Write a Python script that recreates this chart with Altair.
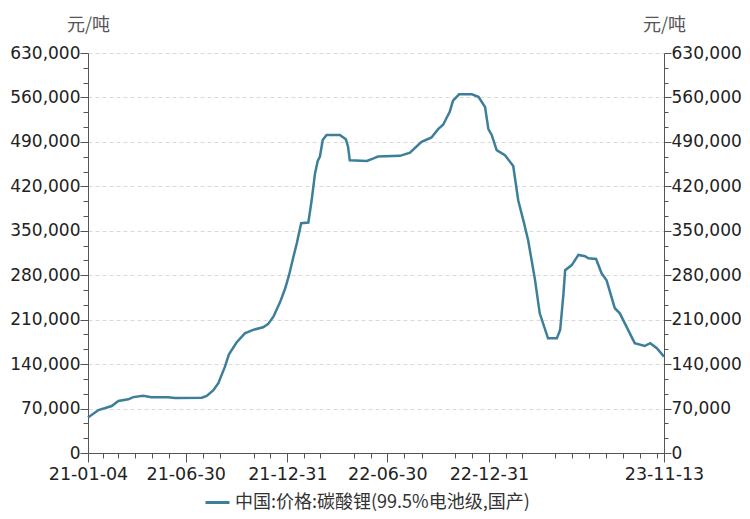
import altair as alt
import pandas as pd

dates = [
    "2021-01-04", "2021-01-23", "2021-02-16", "2021-02-28", "2021-03-18", "2021-03-27",
    "2021-04-14", "2021-04-29", "2021-05-29", "2021-06-11", "2021-07-29", "2021-08-07",
    "2021-08-19", "2021-08-28", "2021-09-09", "2021-09-16", "2021-09-30", "2021-10-15",
    "2021-10-30", "2021-11-17", "2021-11-26", "2021-12-06", "2021-12-18", "2021-12-27",
    "2022-01-03", "2022-01-11", "2022-01-17", "2022-01-25", "2022-02-07", "2022-02-13",
    "2022-02-19", "2022-02-24", "2022-02-28", "2022-03-05", "2022-03-12", "2022-04-05",
    "2022-04-16", "2022-04-20", "2022-04-23", "2022-05-24", "2022-06-05", "2022-06-13",
    "2022-07-23", "2022-08-10", "2022-08-31", "2022-09-18", "2022-09-30", "2022-10-09",
    "2022-10-21", "2022-10-27", "2022-11-07", "2022-11-30", "2022-12-12", "2022-12-24",
    "2022-12-30", "2023-01-05", "2023-01-14", "2023-01-29", "2023-02-13", "2023-02-22",
    "2023-03-04", "2023-03-12", "2023-03-24", "2023-04-02", "2023-04-17", "2023-05-03",
    "2023-05-09", "2023-05-15", "2023-05-18", "2023-05-30", "2023-06-11", "2023-06-23",
    "2023-06-29", "2023-07-13", "2023-07-23", "2023-08-01", "2023-08-16", "2023-08-25",
    "2023-09-09", "2023-09-21", "2023-10-09", "2023-10-19", "2023-10-31", "2023-11-13",
]
prices = [
    56000, 67700, 74000, 82000, 84500, 88000,
    90000, 87700, 87700, 86600, 87000, 90000,
    99000, 110000, 136000, 155000, 174000, 188500,
    194000, 198000, 203000, 215000, 238000, 259000,
    280000, 309000, 330000, 362000, 363000, 398000,
    440000, 460000, 467000, 493000, 501000, 501000,
    494000, 482000, 461000, 460000, 464000, 467000,
    468000, 473000, 490000, 497000, 510000, 517000,
    537500, 555000, 565000, 565000, 561000, 545000,
    510000, 501000, 477000, 469000, 452000, 398000,
    364000, 335000, 275000, 220000, 180600, 180600,
    194000, 251500, 288000, 296000, 312000, 310000,
    306600, 305500, 283000, 272000, 228000, 220000,
    194000, 173000, 168500, 173000, 165000, 151700,
]
series_name = "中国:价格:碳酸锂(99.5%电池级,国产)"
unit_label = "元/吨"

x_label_dates = ["2021-01-04", "2021-06-30", "2021-12-31", "2022-06-30", "2022-12-31", "2023-11-13"]
x_tick_dates = [
    "2021-01-04", "2021-01-31", "2021-02-28", "2021-03-31", "2021-04-30", "2021-05-31",
    "2021-06-30", "2021-07-31", "2021-08-31", "2021-10-31", "2021-11-30", "2021-12-31",
    "2022-01-31", "2022-02-28", "2022-04-30", "2022-05-31", "2022-06-30", "2022-07-31",
    "2022-08-31", "2022-10-31", "2022-11-30", "2022-12-31", "2023-01-31", "2023-02-28",
    "2023-04-30", "2023-05-31", "2023-06-30", "2023-07-31", "2023-08-31", "2023-09-30",
    "2023-10-31", "2023-11-13",
]
y_max = 630000
y_major_step = 70000
y_minor_count = 27  # ticks every 70000/3

df = pd.DataFrame({"date": pd.to_datetime(dates), "price": prices, "series": series_name})


def dt(s):
    y, m, d = (int(p) for p in s.split("-"))
    return alt.DateTime(year=y, month=m, date=d)


x_ticks = [dt(s) for s in x_tick_dates]
y_ticks = [i * y_major_step / 3 for i in range(y_minor_count + 1)]

label_set = "[" + ",".join("'" + s + "'" for s in x_label_dates) + "]"
is_x_major = f"indexof({label_set}, timeFormat(datum.value, '%Y-%m-%d')) >= 0"
is_y_major = f"abs(datum.value/{y_major_step} - round(datum.value/{y_major_step})) < 0.001"

NUM_FONT = "DejaVu Sans"
CJK_FONT = "Noto Sans CJK SC"
LINE_COLOR = "#3d7f99"
AXIS_COLOR = "#555555"

x_enc = alt.X(
    "date:T",
    scale=alt.Scale(domain=[dt(x_label_dates[0]), dt(x_label_dates[-1])]),
    axis=alt.Axis(
        values=x_ticks,
        format="%y-%m-%d",
        labelExpr=f"{is_x_major} ? timeFormat(datum.value, '%y-%m-%d') : ''",
        labelOverlap=False,
        labelFlush=False,
        labelFontSize=17.5,
        grid=False,
        title=None,
        tickSize={"condition": {"test": is_x_major, "value": 9}, "value": 5},
        labelPadding=3,
    ),
)

left = alt.Chart(df).mark_line(strokeWidth=2.5).encode(
    x=x_enc,
    y=alt.Y(
        "price:Q",
        scale=alt.Scale(domain=[0, y_max], nice=False),
        axis=alt.Axis(
            orient="left",
            values=y_ticks,
            labelExpr=f"{is_y_major} ? format(datum.value, ',') : ''",
            labelOverlap=False,
            grid=True,
            gridDash=[4, 3],
            gridColor="#d9d9d9",
            gridOpacity={"condition": {"test": is_y_major, "value": 1}, "value": 0},
            tickSize={"condition": {"test": is_y_major, "value": 8}, "value": 5},
            labelPadding=0,
            title=unit_label,
            titleAngle=0,
            titleX=0,
            titleY=-28,
            titleAlign="center",
            titleBaseline="middle",
        ),
    ),
    color=alt.Color(
        "series:N",
        scale=alt.Scale(range=[LINE_COLOR]),
        legend=alt.Legend(
            title=None,
            orient="none",
            legendX=116,
            legendY=436,
            symbolType="stroke",
            symbolSize=576,
            symbolStrokeWidth=3,
            labelFontSize=18,
            labelFont=CJK_FONT,
            labelColor="#333333",
            labelLimit=500,
        ),
    ),
)

right = alt.Chart(df).mark_line(strokeOpacity=0).encode(
    x=x_enc,
    y=alt.Y(
        "price:Q",
        scale=alt.Scale(domain=[0, y_max], nice=False),
        axis=alt.Axis(
            orient="right",
            values=y_ticks,
            labelExpr=f"{is_y_major} ? format(datum.value, ',') : ''",
            labelOverlap=False,
            grid=False,
            tickSize={"condition": {"test": is_y_major, "value": 7}, "value": 4},
            labelPadding=0,
            title=unit_label,
            titleAngle=0,
            titleX=0,
            titleY=-28,
            titleAlign="center",
            titleBaseline="middle",
        ),
    ),
)

chart = (
    alt.layer(left, right)
    .resolve_scale(y="independent")
    .properties(
        width=576,
        height=400,
        autosize=alt.AutoSizeParams(type="none"),
        padding={"left": 80, "top": 45, "right": 78, "bottom": 58},
    )
    .configure_view(stroke=None)
    .configure_axis(
        domainColor=AXIS_COLOR,
        tickColor=AXIS_COLOR,
        labelColor="#222222",
        labelFont=NUM_FONT,
        labelFontSize=17,
        titleFont=CJK_FONT,
        titleFontSize=18,
        titleFontWeight="normal",
        titleColor="#555555",
    )
)

chart.save("out.html", embed_options={"renderer": "svg", "actions": False})
